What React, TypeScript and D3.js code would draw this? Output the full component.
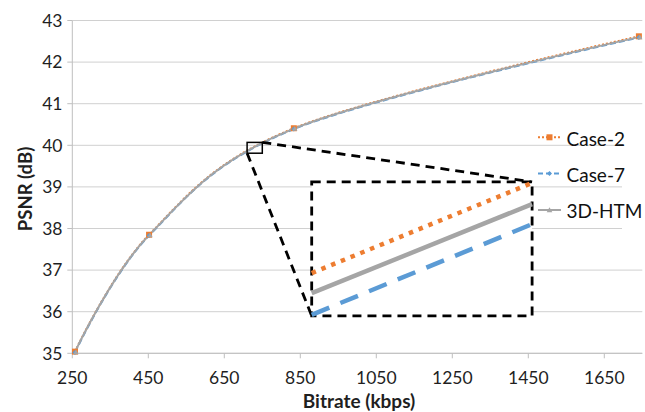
import React from "react";
import * as d3 from "d3";

// ---------- data ----------
const bitrates = [257, 452, 833, 1741];
const case2 = [35.04, 37.85, 40.41, 42.62];
const case7 = [35.02, 37.83, 40.39, 42.59];
const htm3d = [35.03, 37.84, 40.40, 42.60];

const xTicks = [250, 450, 650, 850, 1050, 1250, 1450, 1650];
const yTicks = [35, 36, 37, 38, 39, 40, 41, 42, 43];

// zoomed region (data coords) and inset values at its two edges
const zoomBitrate = [710, 750];
const zoomPsnr = [39.81, 40.07];
const insetCase2 = [39.893, 40.068];
const insetCase7 = [39.812, 39.988];
const insetHtm = [39.854, 40.027];
// where the inset is placed (main data coords)
const insetBitrate = [880, 1460];
const insetPsnr = [35.9, 39.12];

const legendNames = ["Case-2", "Case-7", "3D-HTM"];

// ---------- layout ----------
const W = 645;
const H = 412;
const FONT = "Lato, 'Open Sans', sans-serif";
const ORANGE = "#ed7d31";
const BLUE = "#5b9bd5";
const GRAY = "#a5a5a5";
const GRID = "#d0d0d0";

export default function App() {
  const x = d3.scaleLinear().domain([250, 1750]).range([72.3, 642.3]);
  const y = d3.scaleLinear().domain([35, 43]).range([353.3, 20.5]);

  const pts = (vals: number[]) => bitrates.map((b, i) => [b, vals[i]] as [number, number]);
  const line = d3
    .line<[number, number]>()
    .x((d) => x(d[0]))
    .y((d) => y(d[1]))
    .curve(d3.curveCardinal.tension(0));

  // inset scales
  const ix = d3.scaleLinear().domain(zoomBitrate).range([x(insetBitrate[0]), x(insetBitrate[1])]);
  const iy = d3.scaleLinear().domain(zoomPsnr).range([y(insetPsnr[0]), y(insetPsnr[1])]);
  const iline = (vals: number[]) =>
    d3.line<number>()
      .x((_, i) => ix(zoomBitrate[i]))
      .y((d) => iy(d))(vals) as string;

  const sqX0 = x(zoomBitrate[0]);
  const sqX1 = x(zoomBitrate[1]);
  const sqY0 = y(zoomPsnr[1]);
  const sqY1 = y(zoomPsnr[0]);
  const rX0 = x(insetBitrate[0]);
  const rX1 = x(insetBitrate[1]);
  const rY0 = y(insetPsnr[1]);
  const rY1 = y(insetPsnr[0]);

  const tri = (cx: number, cy: number, s: number) =>
    `M${cx},${cy - s}L${cx + s},${cy + s * 0.8}L${cx - s},${cy + s * 0.8}Z`;
  const dia = (cx: number, cy: number, s: number) =>
    `M${cx},${cy - s}L${cx + s},${cy}L${cx},${cy + s}L${cx - s},${cy}Z`;

  const legendY = [137.3, 173.5, 210];

  return (
    <svg
      width={W}
      height={H}
      style={{ position: "absolute", left: 0, top: 0, background: "#fff" }}
      fontFamily={FONT}
    >
      <rect width={W} height={H} fill="#fff" />
      {/* gridlines */}
      {yTicks.map((t) => (
        <line key={t} x1={x(250)} x2={x(1750)} y1={y(t)} y2={y(t)} stroke={GRID} strokeWidth={1} />
      ))}
      {/* legend background */}
      <rect x={622} y={120} width={23} height={110} fill="#fff" />
      {/* axes */}
      <line x1={x(250)} x2={x(250)} y1={y(43)} y2={y(35)} stroke="#bfbfbf" strokeWidth={1} />
      <line x1={x(250)} x2={x(1750)} y1={y(35)} y2={y(35)} stroke="#bfbfbf" strokeWidth={1} />
      {yTicks.map((t) => (
        <line key={"yt" + t} x1={x(250) - 5} x2={x(250)} y1={y(t)} y2={y(t)} stroke="#bfbfbf" />
      ))}
      {xTicks.map((t) => (
        <line key={"xt" + t} x1={x(t)} x2={x(t)} y1={y(35)} y2={y(35) + 5} stroke="#bfbfbf" />
      ))}
      {/* tick labels */}
      {yTicks.map((t) => (
        <text key={"yl" + t} x={62.5} y={y(t) + 6.3} textAnchor="end" fontSize={17.5} fill="#1f1f1f">
          {t}
        </text>
      ))}
      {xTicks.map((t) => (
        <text key={"xl" + t} x={x(t)} y={383.5} textAnchor="middle" fontSize={17.5} fill="#1f1f1f">
          {t}
        </text>
      ))}
      {/* axis titles */}
      <text x={359} y={408} textAnchor="middle" fontSize={19} fontWeight="bold" fill="#1f1f1f">
        Bitrate (kbps)
      </text>
      <text
        transform={`translate(32,189) rotate(-90)`}
        textAnchor="middle"
        fontSize={18.5}
        fontWeight="bold"
        fill="#1f1f1f"
      >
        PSNR (dB)
      </text>

      {/* main series */}
      <path d={line(pts(case2)) as string} fill="none" stroke={ORANGE} strokeWidth={2} strokeDasharray="2 2" />
      <path d={line(pts(case7)) as string} fill="none" stroke={BLUE} strokeWidth={2} strokeDasharray="6 3" />
      <path d={line(pts(htm3d)) as string} fill="none" stroke={GRAY} strokeWidth={2} />
      {pts(case2).map((d, i) => (
        <rect key={"m2" + i} x={x(d[0]) - 3} y={y(d[1]) - 3} width={6} height={6} fill={ORANGE} />
      ))}
      {pts(case7).map((d, i) => (
        <path key={"m7" + i} d={dia(x(d[0]), y(d[1]), 2.5)} fill={BLUE} />
      ))}
      {pts(htm3d).map((d, i) => (
        <path key={"mh" + i} d={tri(x(d[0]) + 1, y(d[1]), 2.6)} fill={GRAY} />
      ))}

      {/* zoom square */}
      <rect x={sqX0} y={sqY0} width={sqX1 - sqX0} height={sqY1 - sqY0} fill="none" stroke="#000" strokeWidth={1.5} />
      {/* inset box */}
      <rect x={rX0} y={rY0} width={rX1 - rX0} height={rY1 - rY0} fill="#fff" stroke="#000" strokeWidth={2.8} strokeDasharray="9 6" />
      <line x1={sqX1} y1={sqY0} x2={rX1} y2={rY0} stroke="#000" strokeWidth={2.8} strokeDasharray="9 6" />
      <line x1={sqX0} y1={sqY1} x2={rX0} y2={rY1} stroke="#000" strokeWidth={2.8} strokeDasharray="9 6" />
      {/* inset lines */}
      <path d={iline(insetCase2)} stroke={ORANGE} strokeWidth={4.5} strokeDasharray="4.5 6" fill="none" />
      <path d={iline(insetHtm)} stroke={GRAY} strokeWidth={4.5} fill="none" />
      <path d={iline(insetCase7)} stroke={BLUE} strokeWidth={4.5} strokeDasharray="19 12" fill="none" />

      {/* legend */}
      {legendNames.map((n, i) => {
        const ly = legendY[i];
        const col = [ORANGE, BLUE, GRAY][i];
        const dash = ["2 2", "5 3", undefined][i];
        return (
          <g key={n}>
            <line x1={538} x2={561} y1={ly} y2={ly} stroke={col} strokeWidth={2} strokeDasharray={dash} />
            {i === 0 && <rect x={546.5} y={ly - 3} width={6} height={6} fill={ORANGE} />}
            {i === 1 && <path d={dia(549.5, ly, 2.5)} fill={BLUE} />}
            {i === 2 && <path d={tri(549.5, ly, 2.8)} fill={GRAY} />}
            <text x={566.5} y={ly + 8.4} fontSize={19} fill="#111">
              {n}
            </text>
          </g>
        );
      })}
    </svg>
  );
}
